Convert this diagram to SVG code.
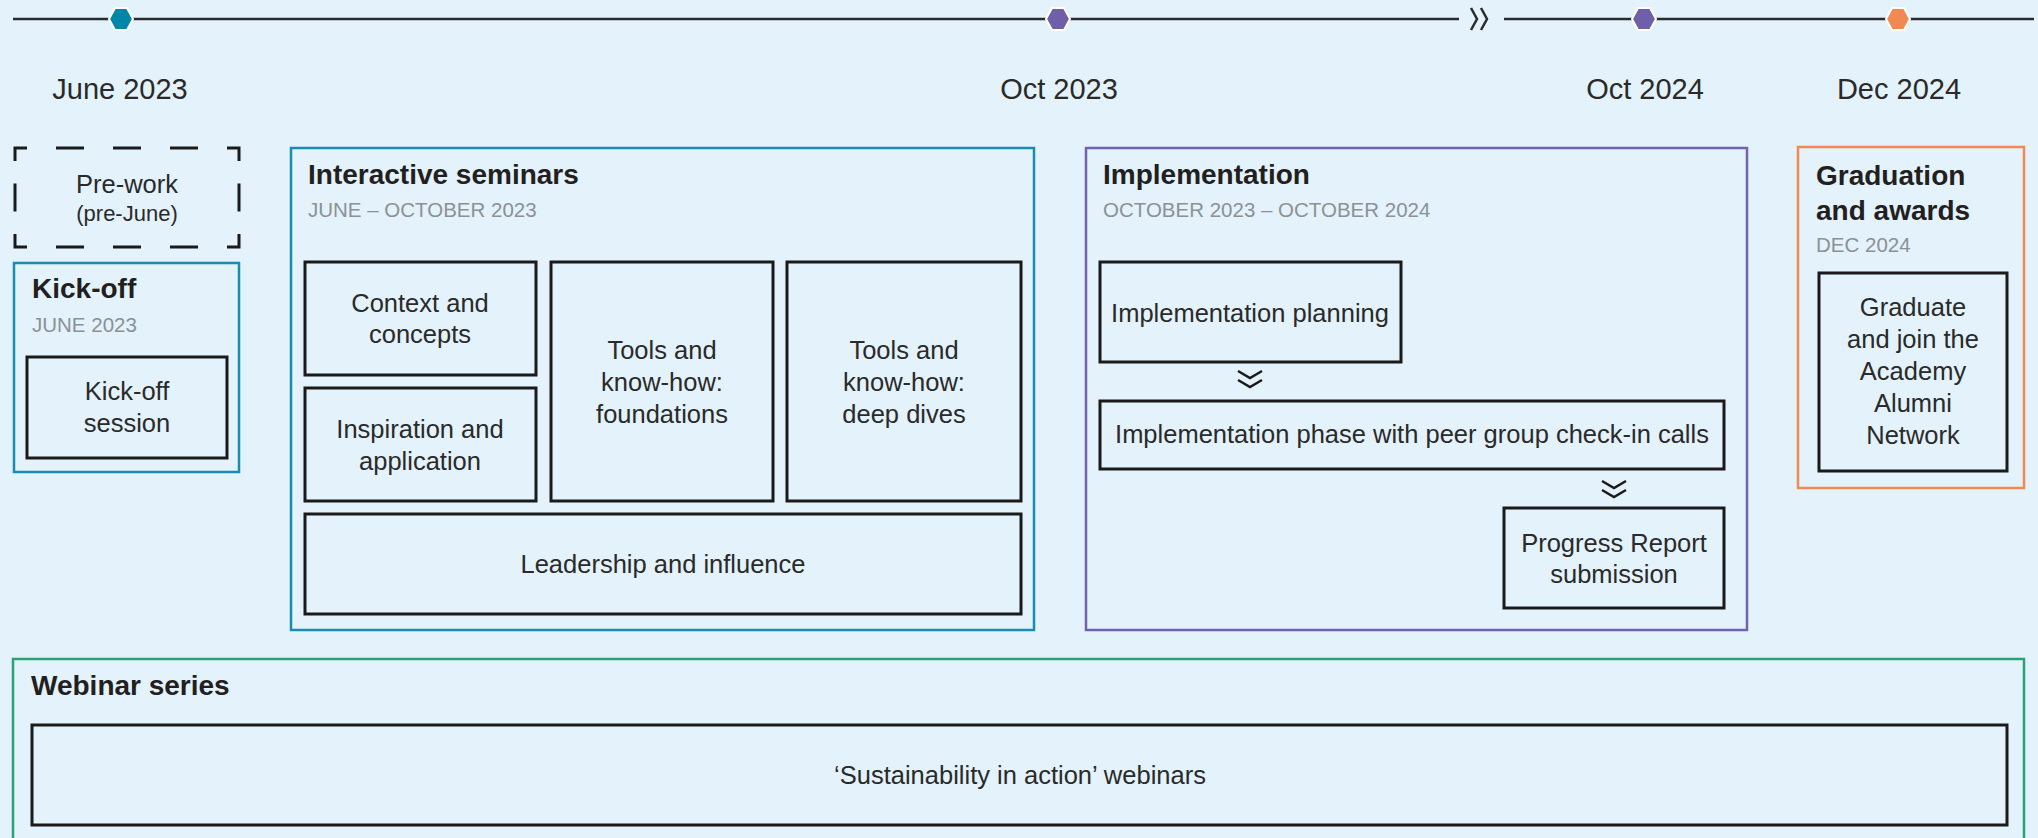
<svg xmlns="http://www.w3.org/2000/svg" width="2038" height="838" viewBox="0 0 2038 838">
<defs>
<style>
.bg{fill:#e3f2fb}
.tl{stroke:#2b2b2b;stroke-width:2.5;fill:none}
.hex{stroke:#ffffff;stroke-width:2}
.box{fill:none;stroke:#1a1a1a;stroke-width:3}
.teal{fill:none;stroke:#1a8cb0;stroke-width:2.5}
.purple{fill:none;stroke:#7065ad;stroke-width:2.5}
.orange{fill:none;stroke:#f08a52;stroke-width:2.5}
.green{fill:none;stroke:#2ba271;stroke-width:2.5}
.date{font-family:"Liberation Sans",Arial,sans-serif;font-size:29px;fill:#2a2a2a;text-anchor:middle}
.title{font-family:"Liberation Sans",Arial,sans-serif;font-size:28px;font-weight:bold;fill:#231f20}
.sub{font-family:"Liberation Sans",Arial,sans-serif;font-size:20.5px;fill:#8c9196}
.body{font-family:"Liberation Sans",Arial,sans-serif;font-size:25.5px;fill:#2a2a2a;text-anchor:middle}
.small{font-family:"Liberation Sans",Arial,sans-serif;font-size:22px;fill:#2a2a2a;text-anchor:middle}
.chev{fill:none;stroke:#1a1a1a;stroke-width:2.5}
</style>
<polygon id="hx" points="-12,0 -6,-11 6,-11 12,0 6,11 -6,11"/>
</defs>
<rect class="bg" x="0" y="0" width="2038" height="838"/>

<g id="timeline">
<line class="tl" x1="13" y1="19" x2="1459" y2="19"/>
<line class="tl" x1="1504" y1="19" x2="2034" y2="19"/>
<polyline class="tl" stroke-width="2" points="1471,8 1477,19 1471,30"/>
<polyline class="tl" stroke-width="2" points="1481,8 1487,19 1481,30"/>
<use href="#hx" class="hex" x="121" y="19" fill="#0086a8"/>
<use href="#hx" class="hex" x="1058" y="19" fill="#6e5fa8"/>
<use href="#hx" class="hex" x="1644" y="19" fill="#6e5fa8"/>
<use href="#hx" class="hex" x="1898" y="19" fill="#f08a52"/>
<text class="date" x="120" y="99">June 2023</text>
<text class="date" x="1059" y="99">Oct 2023</text>
<text class="date" x="1645" y="99">Oct 2024</text>
<text class="date" x="1899" y="99">Dec 2024</text>
</g>

<g id="prework">
<path d="M15,161 V148 H27 M227,148 H239 V161 M239,234 V247 H227 M27,247 H15 V234 M56,148 H84 M113,148 H141 M170,148 H198 M56,247 H84 M113,247 H141 M170,247 H198 M15,183.5 V211.5 M239,183.5 V211.5" fill="none" stroke="#1a1a1a" stroke-width="3"/>
<text class="body" x="127" y="193">Pre-work</text>
<text class="small" x="127" y="221">(pre-June)</text>
</g>

<g id="kickoff">
<rect class="teal" x="14" y="263" width="225" height="209"/>
<text class="title" x="32" y="298">Kick-off</text>
<text class="sub" x="32" y="332">JUNE 2023</text>
<g id="kickoff-session">
<rect class="box" x="27" y="357" width="200" height="101"/>
<text class="body" x="127" y="400">Kick-off</text>
<text class="body" x="127" y="432">session</text>
</g>
</g>

<g id="seminars">
<rect class="teal" x="291" y="148" width="743" height="482"/>
<text class="title" x="308" y="184">Interactive seminars</text>
<text class="sub" x="308" y="217">JUNE – OCTOBER 2023</text>
<g id="context">
<rect class="box" x="305" y="262" width="231" height="113"/>
<text class="body" x="420" y="312">Context and</text>
<text class="body" x="420" y="343">concepts</text>
</g>
<g id="inspiration">
<rect class="box" x="305" y="388" width="231" height="113"/>
<text class="body" x="420" y="438">Inspiration and</text>
<text class="body" x="420" y="470">application</text>
</g>
<g id="foundations">
<rect class="box" x="551" y="262" width="222" height="239"/>
<text class="body" x="662" y="359">Tools and</text>
<text class="body" x="662" y="391">know-how:</text>
<text class="body" x="662" y="423">foundations</text>
</g>
<g id="deepdives">
<rect class="box" x="787" y="262" width="234" height="239"/>
<text class="body" x="904" y="359">Tools and</text>
<text class="body" x="904" y="391">know-how:</text>
<text class="body" x="904" y="423">deep dives</text>
</g>
<g id="leadership">
<rect class="box" x="305" y="514" width="716" height="100"/>
<text class="body" x="663" y="573">Leadership and influence</text>
</g>
</g>

<g id="implementation">
<rect class="purple" x="1086" y="148" width="661" height="482"/>
<text class="title" x="1103" y="184">Implementation</text>
<text class="sub" x="1103" y="217">OCTOBER 2023 – OCTOBER 2024</text>
<g id="planning">
<rect class="box" x="1100" y="262" width="301" height="100"/>
<text class="body" x="1250" y="322">Implementation planning</text>
</g>
<g id="phase">
<rect class="box" x="1100" y="401" width="624" height="68"/>
<text class="body" x="1412" y="443">Implementation phase with peer group check-in calls</text>
</g>
<g id="progress">
<rect class="box" x="1504" y="508" width="220" height="100"/>
<text class="body" x="1614" y="552">Progress Report</text>
<text class="body" x="1614" y="583">submission</text>
</g>
</g>

<g id="graduation">
<rect class="orange" x="1798" y="147" width="226" height="341"/>
<text class="title" x="1816" y="185">Graduation</text>
<text class="title" x="1816" y="220">and awards</text>
<text class="sub" x="1816" y="252">DEC 2024</text>
<g id="graduate">
<rect class="box" x="1819" y="273" width="188" height="198"/>
<text class="body" x="1913" y="316">Graduate</text>
<text class="body" x="1913" y="348">and join the</text>
<text class="body" x="1913" y="380">Academy</text>
<text class="body" x="1913" y="412">Alumni</text>
<text class="body" x="1913" y="444">Network</text>
</g>
</g>

<g id="webinar">
<rect class="green" x="13" y="659" width="2011" height="200"/>
<text class="title" x="31" y="695">Webinar series</text>
<g id="webinars">
<rect class="box" x="32" y="725" width="1975" height="100"/>
<text class="body" x="1020" y="784">‘Sustainability in action’ webinars</text>
</g>
</g>

<g id="connectors">
<polyline class="chev" points="1238,371 1250,378 1262,371"/>
<polyline class="chev" points="1238,380 1250,387 1262,380"/>
<polyline class="chev" points="1602,481 1614,488 1626,481"/>
<polyline class="chev" points="1602,490 1614,497 1626,490"/>
</g>
</svg>
